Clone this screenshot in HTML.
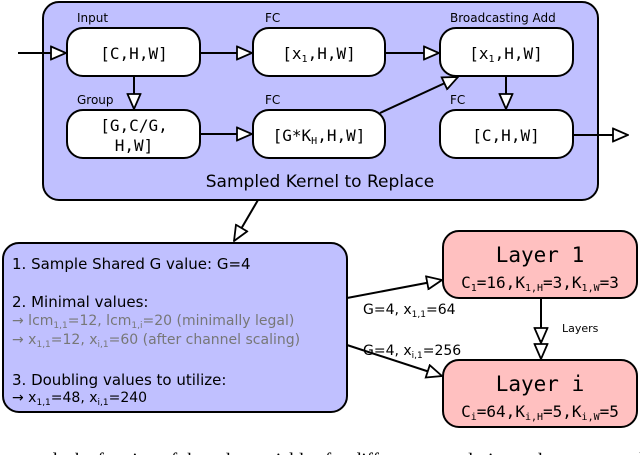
<!DOCTYPE html>
<html><head><meta charset="utf-8"><style>
html,body{margin:0;padding:0;background:#fff;width:640px;height:455px;overflow:hidden}
svg{display:block}
.s{font-family:"DejaVu Sans","Liberation Sans",sans-serif}
.m{font-family:"DejaVu Sans Mono","Liberation Mono",monospace}
</style></head><body>
<svg width="640" height="455" viewBox="0 0 640 455" xmlns="http://www.w3.org/2000/svg">
<defs>
<marker id="a" viewBox="0 0 17 15" refX="16" refY="7.5" markerWidth="17" markerHeight="15" markerUnits="userSpaceOnUse" orient="auto">
<path d="M1,1 L16,7.5 L1,14 Z" fill="#fff" stroke="#000" stroke-width="1.8"/>
</marker>
</defs>
<rect x="43" y="2" width="555" height="198" rx="16" fill="#c0c0ff" stroke="#000" stroke-width="2"/>
<g fill="#fff" stroke="#000" stroke-width="2">
<rect x="67" y="28" width="133" height="48" rx="16"/>
<rect x="253" y="28" width="132" height="48" rx="16"/>
<rect x="440" y="28" width="133" height="48" rx="16"/>
<rect x="67" y="110" width="133" height="48" rx="16"/>
<rect x="253" y="110" width="132" height="48" rx="16"/>
<rect x="440" y="110" width="133" height="48" rx="16"/>
</g>
<g class="s" font-size="12" fill="#000">
<text x="77" y="22">Input</text><text x="265" y="22">FC</text><text x="450" y="22">Broadcasting Add</text>
<text x="77" y="104">Group</text><text x="265" y="104">FC</text><text x="450" y="104">FC</text>
</g>
<g class="m" font-size="16" text-anchor="middle" fill="#000">
<text x="134" y="59">[C,H,W]</text>
<text x="319" y="59">[x<tspan font-size="10" dy="3">1</tspan><tspan dy="-3">,H,W]</tspan></text>
<text x="506" y="59">[x<tspan font-size="10" dy="3">1</tspan><tspan dy="-3">,H,W]</tspan></text>
<text x="134" y="131">[G,C/G,</text><text x="134" y="151">H,W]</text>
<text x="319" y="141">[G*K<tspan font-size="10" dy="3">H</tspan><tspan dy="-3">,H,W]</tspan></text>
<text x="506" y="141">[C,H,W]</text>
</g>
<text class="s" x="320" y="187" font-size="17" text-anchor="middle">Sampled Kernel to Replace</text>
<g stroke="#000" stroke-width="2" fill="none" marker-end="url(#a)">
<line x1="18" y1="53" x2="66" y2="53"/>
<line x1="200" y1="53" x2="252" y2="53"/>
<line x1="385" y1="53" x2="439" y2="53"/>
<line x1="134" y1="76" x2="134" y2="109"/>
<line x1="506" y1="76" x2="506" y2="109"/>
<line x1="200" y1="134" x2="252" y2="134"/>
<line x1="380" y1="113" x2="458" y2="77"/>
<line x1="573" y1="135" x2="628" y2="135"/>
<line x1="258" y1="200" x2="234" y2="241"/>
<line x1="347" y1="298" x2="442" y2="280"/>
<line x1="347" y1="345" x2="442" y2="376"/>
<line x1="541" y1="297" x2="541" y2="343"/>
<line x1="541" y1="340" x2="541" y2="359"/>
</g>
<rect x="3" y="243" width="344" height="169" rx="16" fill="#c0c0ff" stroke="#000" stroke-width="2"/>
<rect x="443" y="231" width="194" height="67" rx="16" fill="#ffc0c0" stroke="#000" stroke-width="2"/>
<rect x="443" y="360" width="194" height="67" rx="16" fill="#ffc0c0" stroke="#000" stroke-width="2"/>
<g class="m" text-anchor="middle" fill="#000">
<text x="540" y="262" font-size="21">Layer 1</text>
<text x="540" y="288" font-size="16">C<tspan font-size="10" dy="3">1</tspan><tspan dy="-3">=16,K</tspan><tspan font-size="10" dy="3">1,H</tspan><tspan dy="-3">=3,K</tspan><tspan font-size="10" dy="3">1,W</tspan><tspan dy="-3">=3</tspan></text>
<text x="540" y="391" font-size="21">Layer i</text>
<text x="540" y="417" font-size="16">C<tspan font-size="10" dy="3">i</tspan><tspan dy="-3">=64,K</tspan><tspan font-size="10" dy="3">i,H</tspan><tspan dy="-3">=5,K</tspan><tspan font-size="10" dy="3">i,W</tspan><tspan dy="-3">=5</tspan></text>
</g>
<g class="s" fill="#000">
<text x="12" y="269" font-size="15">1. Sample Shared G value: G=4</text>
<text x="12" y="307" font-size="15">2. Minimal values:</text>
<text x="12" y="325" font-size="14" fill="#777">→ lcm<tspan font-size="9" dy="3">1,1</tspan><tspan dy="-3">=12, lcm</tspan><tspan font-size="9" dy="3">1,i</tspan><tspan dy="-3">=20 (minimally legal)</tspan></text>
<text x="12" y="344" font-size="14" fill="#777">→ x<tspan font-size="9" dy="3">1,1</tspan><tspan dy="-3">=12, x</tspan><tspan font-size="9" dy="3">i,1</tspan><tspan dy="-3">=60 (after channel scaling)</tspan></text>
<text x="12" y="385" font-size="15">3. Doubling values to utilize:</text>
<text x="12" y="402" font-size="14">→ x<tspan font-size="9" dy="3">1,1</tspan><tspan dy="-3">=48, x</tspan><tspan font-size="9" dy="3">i,1</tspan><tspan dy="-3">=240</tspan></text>
<text x="363" y="314" font-size="14">G=4, x<tspan font-size="9" dy="3">1,1</tspan><tspan dy="-3">=64</tspan></text>
<text x="363" y="355" font-size="14">G=4, x<tspan font-size="9" dy="3">i,1</tspan><tspan dy="-3">=256</tspan></text>
<text x="562" y="332" font-size="11">Layers</text>
</g>
<text x="30" y="466" font-family="Liberation Serif,serif" font-size="19" fill="#000">ends the fraction of the rules variables for different convolutions a layer ones to be done</text>
</svg>
</body></html>
